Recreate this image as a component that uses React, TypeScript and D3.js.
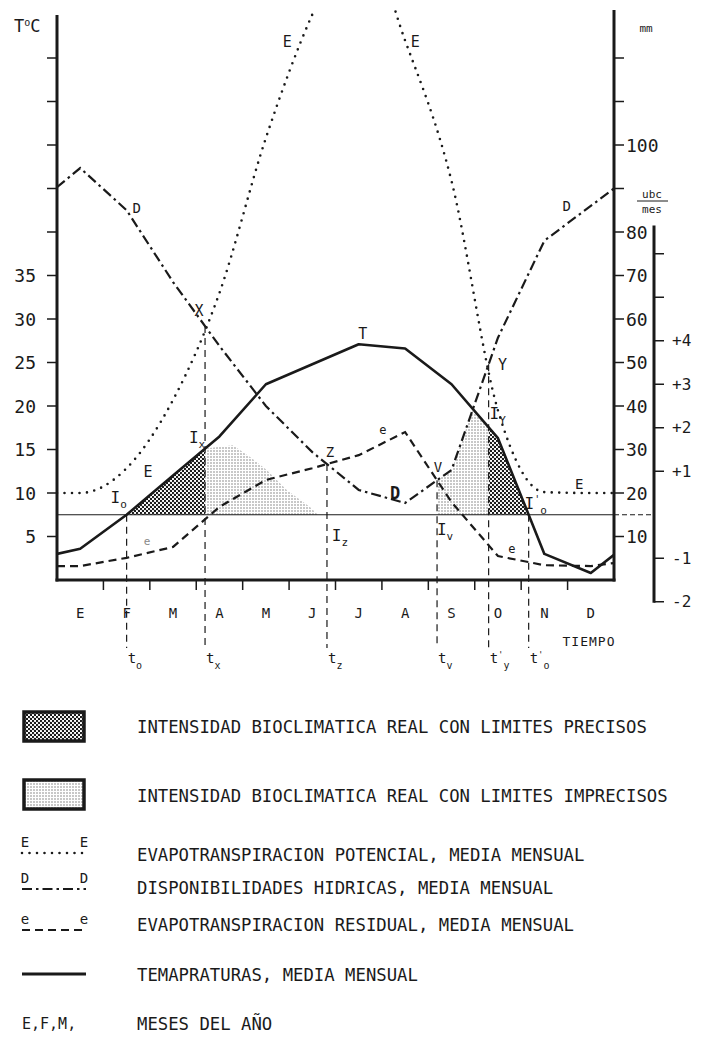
import React, { useEffect, useRef } from 'react';
import * as d3 from 'd3';

// months of the year (Spanish initials)
const months = ['E', 'F', 'M', 'A', 'M', 'J', 'J', 'A', 'S', 'O', 'N', 'D'];

// mean monthly temperature, °C (mid-month) + values on the left/right axes
const temps = [3.6, 7.5, 12.0, 16.5, 22.5, 24.8, 27.1, 26.6, 22.5, 16.3, 3.0, 0.8];
const tempEdges = [3.0, 2.9];

// potential evapotranspiration, mm
const evapPot = [20, 25.7, 41.4, 66, 101.6, 130, 150, 124, 91.7, 39, 20.2, 20];
const evapPotEdges = [20, 20];

// water availability, mm
const dispHid = [94.7, 85, 68.5, 53.8, 40, 29.4, 20.7, 17.7, 25.3, 55.7, 78, 86];
const dispHidEdges = [90.3, 90];

// residual evapotranspiration, mm
const evapRes = [3.2, 5.1, 7.6, 16.8, 23, 25.7, 28.7, 34, 17.9, 5.5, 3.4, 3.2];
const evapResEdges = [3.2, 3.9];

// biological zero, °C
const threshold = 7.5;

// hand drawn edge of the imprecise zone (month position, mm)
const impreciseEdge = [[3.79, 31], [4.16, 28.3], [4.52, 25.3], [4.95, 20.7], [5.45, 16.8], [5.62, 15]];

const tempTicks = [5, 10, 15, 20, 25, 30, 35];
const tempMinor = [40, 45, 50, 55, 60];
const mmTicks = [10, 20, 30, 40, 50, 60, 70, 80, 100];
const mmMinor = [90, 110, 120];
const ubcTicks = [-2, -1, 1, 2, 3, 4];
const ubcLabels = ['-2', '-1', '+1', '+2', '+3', '+4'];
const ubcMinor = [5, 6];

const legendRows = [
  'INTENSIDAD BIOCLIMATICA REAL CON LIMITES PRECISOS',
  'INTENSIDAD BIOCLIMATICA REAL CON LIMITES IMPRECISOS',
  'EVAPOTRANSPIRACION POTENCIAL, MEDIA MENSUAL',
  'DISPONIBILIDADES HIDRICAS, MEDIA MENSUAL',
  'EVAPOTRANSPIRACION RESIDUAL, MEDIA MENSUAL',
  'TEMAPRATURAS, MEDIA MENSUAL',
  'MESES DEL AÑO'
];

const MONO = "'DejaVu Sans Mono', monospace";
const INK = '#1a1a1a';

type Pt = [number, number];

function toPts(vals: number[], edges: number[]): Pt[] {
  return [[0, edges[0]] as Pt, ...vals.map((v, i) => [i + 0.5, v] as Pt), [12, edges[1]] as Pt];
}

function valueAt(pts: Pt[], xv: number) {
  for (let i = 0; i < pts.length - 1; i++) {
    if (xv >= pts[i][0] && xv <= pts[i + 1][0]) {
      const t = (xv - pts[i][0]) / (pts[i + 1][0] - pts[i][0]);
      return pts[i][1] + t * (pts[i + 1][1] - pts[i][1]);
    }
  }
  return pts[pts.length - 1][1];
}

// x positions where series a crosses series b (same x positions)
function crossings(a: Pt[], other: (i: number) => number) {
  const out: number[] = [];
  for (let i = 0; i < a.length - 1; i++) {
    const d0 = a[i][1] - other(i), d1 = a[i + 1][1] - other(i + 1);
    if ((d0 < 0 && d1 >= 0) || (d0 > 0 && d1 <= 0)) {
      out.push(a[i][0] + (d0 / (d0 - d1)) * (a[i + 1][0] - a[i][0]));
    }
  }
  return out;
}

function draw(el: SVGSVGElement) {
  const svg = d3.select(el);
  svg.selectAll('*').remove();

  const x = d3.scaleLinear().domain([0, 12]).range([57, 614]);
  const yMm = d3.scaleLinear().domain([0, 120]).range([580, 58]);
  const yT = d3.scaleLinear().domain([0, 60]).range([580, 58]);
  const thrMm = threshold * 2;
  const yU = d3.scaleLinear().domain([0, 1]).range([yMm(thrMm), yMm(thrMm + 10)]);

  const tPts = toPts(temps.map(t => t * 2), tempEdges.map(t => t * 2));
  const ePts = toPts(evapPot, evapPotEdges);
  const dPts = toPts(dispHid, dispHidEdges);
  const rPts = toPts(evapRes, evapResEdges);

  const [t0, t0b] = crossings(tPts, () => thrMm);
  const [tx, ty] = crossings(dPts, i => ePts[i][1]);
  const [tz, tv] = crossings(dPts, i => rPts[i][1]);

  const defs = svg.append('defs');
  const dense = defs.append('pattern').attr('id', 'dense').attr('width', 4).attr('height', 4)
    .attr('patternUnits', 'userSpaceOnUse');
  dense.append('rect').attr('width', 4).attr('height', 4).attr('fill', '#fff');
  dense.append('circle').attr('cx', 1).attr('cy', 1).attr('r', 1.15).attr('fill', '#111');
  dense.append('circle').attr('cx', 3).attr('cy', 3).attr('r', 1.15).attr('fill', '#111');
  const light = defs.append('pattern').attr('id', 'light').attr('width', 3).attr('height', 3)
    .attr('patternUnits', 'userSpaceOnUse');
  light.append('rect').attr('width', 3).attr('height', 3).attr('fill', '#fff');
  light.append('circle').attr('cx', 1).attr('cy', 1).attr('r', 0.7).attr('fill', '#666');
  defs.append('clipPath').attr('id', 'plot').append('rect')
    .attr('x', 57).attr('y', 10).attr('width', 557).attr('height', 600);

  svg.append('rect').attr('width', 703).attr('height', 1037).attr('fill', '#fff');

  // shaded zones
  const samp = (a: number, b: number) => d3.range(a, b, 0.02).concat([b]);
  const area = d3.area<Pt>().x(d => x(d[0])).y0(yMm(thrMm)).y1(d => yMm(d[1]));
  const zones = svg.append('g');
  zones.append('path').attr('d', area(samp(t0, tx).map(v => [v, valueAt(tPts, v)] as Pt)))
    .attr('fill', 'url(#dense)');
  zones.append('path').attr('d', area(samp(ty, t0b).map(v => [v, valueAt(tPts, v)] as Pt)))
    .attr('fill', 'url(#dense)');
  zones.append('path')
    .attr('d', area(samp(tv, ty).map(v => [v, Math.min(valueAt(tPts, v), valueAt(dPts, v))] as Pt)))
    .attr('fill', 'url(#light)');
  zones.append('path')
    .attr('d', area([[tx, valueAt(tPts, tx)] as Pt, ...impreciseEdge as Pt[]]))
    .attr('fill', 'url(#light)');

  // threshold line
  svg.append('line').attr('x1', 57).attr('x2', 614).attr('y1', yMm(thrMm)).attr('y2', yMm(thrMm))
    .attr('stroke', INK).attr('stroke-width', 1);
  svg.append('line').attr('x1', 614).attr('x2', 654).attr('y1', yMm(thrMm)).attr('y2', yMm(thrMm))
    .attr('stroke', INK).attr('stroke-width', 1).attr('stroke-dasharray', '5 3');

  // vertical markers
  const marks = [
    { t: 't', p: '', s: 'o', v: t0, top: thrMm },
    { t: 't', p: '', s: 'x', v: tx, top: valueAt(dPts, tx) },
    { t: 't', p: '', s: 'z', v: tz, top: valueAt(dPts, tz) },
    { t: 't', p: '', s: 'v', v: tv, top: valueAt(dPts, tv) },
    { t: 't', p: "'", s: 'y', v: ty, top: valueAt(dPts, ty) },
    { t: 't', p: "'", s: 'o', v: t0b, top: thrMm }
  ];
  marks.forEach(m => {
    svg.append('line').attr('x1', x(m.v)).attr('x2', x(m.v)).attr('y1', yMm(m.top)).attr('y2', 648)
      .attr('stroke', INK).attr('stroke-width', 1.2).attr('stroke-dasharray', '7 5');
    const tt = svg.append('text').attr('x', x(m.v) + 1).attr('y', 663)
      .attr('font-family', MONO).attr('font-size', 14).attr('fill', INK);
    tt.append('tspan').text(m.t);
    if (m.p) tt.append('tspan').attr('dy', -5).attr('font-size', 9).text(m.p);
    tt.append('tspan').attr('dy', m.p ? 11 : 6).attr('font-size', 10).text(m.s);
  });

  // series
  const line = d3.line<Pt>().x(d => x(d[0])).y(d => yMm(d[1]));
  const lines = svg.append('g').attr('fill', 'none').attr('clip-path', 'url(#plot)');
  lines.append('path').attr('d', line.curve(d3.curveMonotoneX)(ePts))
    .attr('stroke', INK).attr('stroke-width', 2.6).attr('stroke-linecap', 'round')
    .attr('stroke-dasharray', '0 7.5');
  line.curve(d3.curveLinear);
  lines.append('path').attr('d', line(dPts)).attr('stroke', INK).attr('stroke-width', 2.2)
    .attr('stroke-dasharray', '10 4 2.5 4');
  lines.append('path').attr('d', line(rPts)).attr('stroke', INK).attr('stroke-width', 2.2)
    .attr('stroke-dasharray', '8 5');
  lines.append('path').attr('d', line(tPts)).attr('stroke', INK).attr('stroke-width', 2.6)
    .attr('stroke-linejoin', 'round');

  // axes
  const ax = svg.append('g').attr('stroke', INK);
  ax.append('line').attr('x1', 57).attr('x2', 57).attr('y1', 15).attr('y2', 581.5).attr('stroke-width', 3);
  ax.append('line').attr('x1', 614).attr('x2', 614).attr('y1', 10).attr('y2', 581.5).attr('stroke-width', 3);
  ax.append('line').attr('x1', 55.5).attr('x2', 615.5).attr('y1', 580).attr('y2', 580).attr('stroke-width', 3);
  ax.append('line').attr('x1', 654).attr('x2', 654).attr('y1', yU(6.65)).attr('y2', yU(-2) + 1)
    .attr('stroke-width', 3);
  [...tempTicks, ...tempMinor].forEach(v => {
    ax.append('line').attr('x1', 47).attr('x2', 57).attr('y1', yT(v)).attr('y2', yT(v)).attr('stroke-width', 1.5);
  });
  [...mmTicks, ...mmMinor].forEach(v => {
    ax.append('line').attr('x1', 614).attr('x2', 624).attr('y1', yMm(v)).attr('y2', yMm(v)).attr('stroke-width', 1.5);
  });
  [...ubcTicks, ...ubcMinor].forEach(v => {
    ax.append('line').attr('x1', 654).attr('x2', 664).attr('y1', yU(v)).attr('y2', yU(v)).attr('stroke-width', 1.5);
  });
  d3.range(1, 12).forEach(i => {
    ax.append('line').attr('x1', x(i)).attr('x2', x(i)).attr('y1', 580).attr('y2', 590).attr('stroke-width', 1.5);
  });

  const txt = (px: number, py: number, s: string, size: number, anchor = 'middle') =>
    svg.append('text').attr('x', px).attr('y', py).attr('text-anchor', anchor)
      .attr('dominant-baseline', 'central').attr('font-family', MONO).attr('font-size', size)
      .attr('fill', INK).text(s);

  tempTicks.forEach(v => txt(36, yT(v), String(v), 18, 'end'));
  mmTicks.forEach(v => txt(626, yMm(v), String(v), 18, 'start'));
  ubcTicks.forEach((v, i) => txt(672, yU(v), ubcLabels[i], 16, 'start'));
  months.forEach((m, i) => txt(x(i + 0.5), 613, m, 14));
  txt(589, 641, 'TIEMPO', 13).attr('letter-spacing', 1);

  // axis titles
  const tc = svg.append('text').attr('x', 14).attr('y', 32).attr('font-family', MONO)
    .attr('font-size', 17).attr('fill', INK);
  tc.append('tspan').text('T');
  tc.append('tspan').attr('dy', -6).attr('font-size', 10).text('o');
  tc.append('tspan').attr('dy', 6).text('C');
  txt(646, 28, 'mm', 11);
  txt(652, 194, 'ubc', 11);
  svg.append('line').attr('x1', 637).attr('x2', 668).attr('y1', 201).attr('y2', 201)
    .attr('stroke', INK).attr('stroke-width', 1);
  txt(652, 209, 'mes', 11);

  // curve annotations
  const sub = (px: number, py: number, main: string, s: string, prime = false) => {
    const t = svg.append('text').attr('x', px).attr('y', py).attr('text-anchor', 'middle')
      .attr('font-family', MONO).attr('font-size', 16).attr('fill', INK);
    t.append('tspan').text(main);
    if (prime) t.append('tspan').attr('dy', -6).attr('font-size', 10).text("'");
    t.append('tspan').attr('dy', prime ? 11 : 5).attr('font-size', 11).text(s);
  };
  const yD = (v: number) => yMm(valueAt(dPts, v));
  const yTT = (v: number) => yMm(valueAt(tPts, v));
  txt(x(tx) - 6, yD(tx) - 15, 'X', 15);
  txt(x(tz) + 3, yD(tz) - 12, 'Z', 14);
  txt(x(tv) + 1, yD(tv) - 13, 'V', 14);
  txt(x(ty) + 14, yD(ty) + 1, 'Y', 15);
  txt(x(6.5) + 4, yTT(6.5) - 10, 'T', 15);
  txt(x(1.5) + 10, yD(1.5) - 2, 'D', 14);
  txt(x(7.5) - 10, yD(7.5) - 10, 'D', 17).attr('font-weight', 'bold');
  txt(x(11.5) - 24, yD(11.5), 'D', 14);
  txt(x(1.96), yMm(valueAt(ePts, 1.96)) + 35, 'E', 15);
  txt(x(4.96), yMm(123.7), 'E', 15);
  txt(x(7.72), yMm(123.7), 'E', 15);
  txt(x(11.25), yMm(20) - 9, 'E', 14);
  txt(x(1.94), yMm(valueAt(rPts, 1.94)) - 12, 'e', 11).attr('fill', '#888');
  txt(x(7.0) + 1, yMm(valueAt(rPts, 7.0)) - 14, 'e', 12);
  txt(x(9.8), yMm(valueAt(rPts, 9.8)) - 10, 'e', 12);
  sub(x(t0) - 8, yMm(thrMm) - 12, 'I', 'o');
  sub(x(tx) - 8, yTT(tx) - 6, 'I', 'x');
  sub(x(tz) + 13, yMm(thrMm) + 26, 'I', 'z');
  sub(x(tv) + 8, yMm(thrMm) + 20, 'I', 'v');
  sub(x(ty) + 9, yTT(ty) - 8, 'I', 'Y');
  sub(x(t0b) + 7, yMm(thrMm) - 6, 'I', 'o', true);

  // legend
  const lg = svg.append('g');
  lg.append('rect').attr('x', 24).attr('y', 712).attr('width', 60).attr('height', 29)
    .attr('fill', 'url(#dense)').attr('stroke', INK).attr('stroke-width', 3.5);
  lg.append('rect').attr('x', 24).attr('y', 780).attr('width', 60).attr('height', 29)
    .attr('fill', 'url(#light)').attr('stroke', INK).attr('stroke-width', 3.5);
  const rowY = [727, 796, 855, 888, 925, 975, 1024];
  legendRows.forEach((r, i) => {
    lg.append('text').attr('x', 137).attr('y', rowY[i]).attr('dominant-baseline', 'central')
      .attr('font-family', MONO).attr('font-size', 17.3).attr('fill', INK).text(r);
  });
  const sample = (yy: number, dash: string, w: number, label: string) => {
    lg.append('line').attr('x1', 22).attr('x2', 86).attr('y1', yy).attr('y2', yy)
      .attr('stroke', INK).attr('stroke-width', w).attr('stroke-dasharray', dash)
      .attr('stroke-linecap', dash.startsWith('0') ? 'round' : 'butt');
    if (label) {
      txt(25, yy - 11, label, 14);
      txt(84, yy - 11, label, 14);
    }
  };
  sample(853, '0 7.5', 2.6, 'E');
  sample(889, '10 4 2.5 4', 2.2, 'D');
  sample(930, '8 5', 2.2, 'e');
  sample(974, '', 3, '');
  lg.append('text').attr('x', 22).attr('y', rowY[6]).attr('dominant-baseline', 'central')
    .attr('font-family', MONO).attr('font-size', 15).attr('fill', INK).text('E,F,M,');
}

export default function App() {
  const ref = useRef<SVGSVGElement>(null);
  useEffect(() => {
    if (ref.current) draw(ref.current);
  }, []);
  return (
    <svg ref={ref} width={703} height={1037}
      style={{ position: 'absolute', left: 0, top: 0, background: '#fff' }} />
  );
}
